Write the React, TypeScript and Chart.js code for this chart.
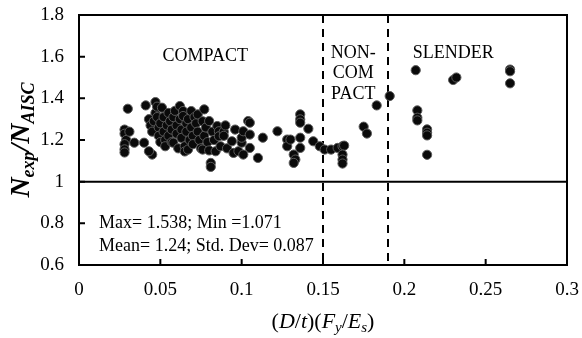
import React, { useEffect, useRef } from "react";
import { Chart, registerables } from "chart.js";

Chart.register(...registerables);

// Data points: [ (D/t)(Fy/Es), Nexp/NAISC ]
const compactPoints: [number, number][] = [
  [0.028, 1.25], [0.028, 1.23], [0.029, 1.2], [0.028, 1.18], [0.028, 1.155], [0.028, 1.14],
  [0.03, 1.35], [0.031, 1.24], [0.034, 1.187], [0.04, 1.187], [0.041, 1.366], [0.047, 1.382],
  [0.045, 1.13], [0.043, 1.146], [0.043, 1.3], [0.044, 1.27], [0.045, 1.24], [0.046, 1.29],
  [0.047, 1.33], [0.048, 1.36], [0.048, 1.31], [0.049, 1.26], [0.049, 1.22], [0.05, 1.19],
  [0.05, 1.28], [0.051, 1.355], [0.052, 1.31], [0.052, 1.24], [0.053, 1.2], [0.053, 1.17],
  [0.054, 1.27], [0.055, 1.33], [0.055, 1.22], [0.056, 1.29], [0.057, 1.25], [0.057, 1.19],
  [0.058, 1.187], [0.058, 1.31], [0.059, 1.34], [0.06, 1.27], [0.06, 1.23], [0.061, 1.16],
  [0.062, 1.363], [0.062, 1.3], [0.063, 1.25], [0.063, 1.21], [0.064, 1.339], [0.064, 1.315],
  [0.065, 1.17], [0.065, 1.145], [0.066, 1.28], [0.066, 1.24], [0.067, 1.154], [0.067, 1.3],
  [0.068, 1.2], [0.069, 1.339], [0.069, 1.26], [0.07, 1.22], [0.07, 1.18], [0.071, 1.31],
  [0.072, 1.28], [0.073, 1.323], [0.073, 1.24], [0.074, 1.2], [0.075, 1.16], [0.076, 1.154],
  [0.076, 1.29], [0.077, 1.347], [0.077, 1.22], [0.078, 1.26], [0.079, 1.19], [0.08, 1.291],
  [0.08, 1.15], [0.081, 1.09], [0.081, 1.071], [0.082, 1.24], [0.083, 1.2], [0.084, 1.146],
  [0.085, 1.267], [0.086, 1.242], [0.086, 1.218], [0.087, 1.17], [0.089, 1.24], [0.089, 1.22],
  [0.09, 1.27], [0.091, 1.16], [0.094, 1.194], [0.095, 1.138], [0.096, 1.25],
  [0.098, 1.146], [0.101, 1.13], [0.1, 1.187], [0.1, 1.211], [0.101, 1.242], [0.104, 1.291],
  [0.105, 1.283], [0.105, 1.226], [0.105, 1.162], [0.113, 1.211], [0.11, 1.114], [0.122, 1.242],
  [0.128, 1.202], [0.128, 1.17], [0.13, 1.202], [0.136, 1.323], [0.136, 1.299], [0.136, 1.283],
  [0.136, 1.211], [0.136, 1.162], [0.141, 1.254], [0.132, 1.13], [0.133, 1.106], [0.132, 1.09],
  [0.144, 1.194], [0.148, 1.17],
];
const nonCompactPoints: [number, number][] = [
  [0.151, 1.154], [0.155, 1.154], [0.159, 1.162], [0.162, 1.17], [0.163, 1.173],
  [0.162, 1.13], [0.162, 1.106], [0.162, 1.087], [0.175, 1.264], [0.177, 1.231],
  [0.183, 1.366],
];
const slenderPoints: [number, number][] = [
  [0.191, 1.411], [0.207, 1.535], [0.208, 1.342], [0.208, 1.307], [0.208, 1.294],
  [0.214, 1.251], [0.214, 1.235], [0.214, 1.222], [0.214, 1.129], [0.23, 1.488],
  [0.232, 1.5], [0.265, 1.538], [0.265, 1.53], [0.265, 1.472],
];

const xTicks = [0, 0.05, 0.1, 0.15, 0.2, 0.25, 0.3];
const yTicks = [0.6, 0.8, 1, 1.2, 1.4, 1.6, 1.8];
const limitLines = [0.15, 0.19];
const refLine = 1;
const regionLabels = [
  { x: 0.0776, y: 1.602, lines: ["COMPACT"] },
  { x: 0.1686, y: 1.617, lines: ["NON-", "COM", "PACT"] },
  { x: 0.23, y: 1.617, lines: ["SLENDER"] },
];
const statsLines = ["Max= 1.538; Min =1.071", "Mean= 1.24; Std. Dev= 0.087"];

const FONT = "'Liberation Serif', 'Times New Roman', serif";

export default function App() {
  const ref = useRef<HTMLCanvasElement | null>(null);
  useEffect(() => {
    document.body.style.margin = "0";
    const canvas = ref.current!;
    const allPts = [...compactPoints, ...nonCompactPoints, ...slenderPoints].map(([x, y]) => ({ x, y }));

    const overlay = {
      id: "overlay",
      beforeDatasetsDraw(chart: any) {
        const { ctx, chartArea: a, scales } = chart;
        const xs = scales.x, ys = scales.y;
        ctx.save();
        ctx.strokeStyle = "#000";
        ctx.lineWidth = 2;
        const yy = ys.getPixelForValue(refLine);
        ctx.beginPath();
        ctx.moveTo(a.left, yy);
        ctx.lineTo(a.right, yy);
        ctx.stroke();
        ctx.setLineDash([8, 6]);
        for (const v of limitLines) {
          const px = Math.round(xs.getPixelForValue(v));
          ctx.beginPath();
          ctx.moveTo(px, a.top);
          ctx.lineTo(px, a.bottom);
          ctx.stroke();
        }
        ctx.restore();
      },
      afterDraw(chart: any) {
        const { ctx, chartArea: a, scales } = chart;
        const xs = scales.x, ys = scales.y;
        ctx.save();
        ctx.strokeStyle = "#000";
        ctx.lineWidth = 2;
        ctx.strokeRect(a.left, a.top, a.right - a.left, a.bottom - a.top);
        ctx.beginPath();
        for (const v of yTicks) {
          const py = ys.getPixelForValue(v);
          ctx.moveTo(a.left, py);
          ctx.lineTo(a.left + 6, py);
        }
        for (const v of xTicks) {
          const px = xs.getPixelForValue(v);
          ctx.moveTo(px, a.bottom);
          ctx.lineTo(px, a.bottom - 6);
        }
        ctx.stroke();

        ctx.fillStyle = "#000";
        ctx.font = `18px ${FONT}`;
        ctx.textAlign = "center";
        ctx.textBaseline = "middle";
        for (const lab of regionLabels) {
          const px = xs.getPixelForValue(lab.x);
          const py = ys.getPixelForValue(lab.y);
          lab.lines.forEach((t, i) => ctx.fillText(t, px, py + i * 20.5));
        }
        ctx.textAlign = "left";
        statsLines.forEach((t, i) => ctx.fillText(t, a.left + 20, 223 + i * 23));

        const drawRuns = (runs: { t: string; f: string; dy: number }[], cx: number, cy: number, rot: boolean) => {
          ctx.save();
          ctx.translate(cx, cy);
          if (rot) ctx.rotate(-Math.PI / 2);
          ctx.textAlign = "left";
          ctx.textBaseline = "alphabetic";
          let total = 0;
          const widths = runs.map((r) => {
            ctx.font = r.f;
            const w = ctx.measureText(r.t).width;
            total += w;
            return w;
          });
          let x = -total / 2;
          runs.forEach((r, i) => {
            ctx.font = r.f;
            ctx.fillText(r.t, x, r.dy);
            x += widths[i];
          });
          ctx.restore();
        };
        const big = `italic bold 28px ${FONT}`;
        const sub = `italic bold 18px ${FONT}`;
        drawRuns(
          [
            { t: "N", f: big, dy: 0 },
            { t: "exp", f: sub, dy: 5 },
            { t: "/", f: big, dy: 0 },
            { t: "N", f: big, dy: 0 },
            { t: "AISC", f: sub, dy: 5 },
          ],
          29, 140, true
        );
        const xr = `22px ${FONT}`;
        const xi = `italic 22px ${FONT}`;
        const xsub = `italic 15px ${FONT}`;
        drawRuns(
          [
            { t: "(", f: xr, dy: 0 },
            { t: "D", f: xi, dy: 0 },
            { t: "/", f: xr, dy: 0 },
            { t: "t", f: xi, dy: 0 },
            { t: ")(", f: xr, dy: 0 },
            { t: "F", f: xi, dy: 0 },
            { t: "y", f: xsub, dy: 4 },
            { t: "/", f: xr, dy: 0 },
            { t: "E", f: xi, dy: 0 },
            { t: "s", f: xsub, dy: 4 },
            { t: ")", f: xr, dy: 0 },
          ],
          (a.left + a.right) / 2, 328, false
        );
        ctx.restore();
      },
    };

    const chart = new Chart(canvas, {
      type: "scatter",
      data: {
        datasets: [
          {
            data: allPts,
            backgroundColor: "#0a0a0a",
            borderColor: "#5a5a5a",
            borderWidth: 1,
            pointRadius: 4.6,
            pointHoverRadius: 4.6,
          },
        ],
      },
      options: {
        animation: false,
        responsive: false,
        events: [],
        layout: { padding: { top: 15, right: 15, left: 0, bottom: 0 } },
        plugins: { legend: { display: false }, tooltip: { enabled: false } },
        scales: {
          x: {
            type: "linear",
            min: 0,
            max: 0.3,
            afterBuildTicks: (s: any) => { s.ticks = xTicks.map((v) => ({ value: v })); },
            afterFit: (s: any) => { s.height = 73; s.paddingLeft = 0; s.paddingRight = 0; },
            grid: { display: false, drawTicks: false },
            border: { display: false },
            ticks: {
              color: "#000",
              font: { family: FONT, size: 19 },
              padding: 14,
              maxRotation: 0,
              callback: (v: any) => String(Number(Number(v).toFixed(2))),
            },
          },
          y: {
            type: "linear",
            min: 0.6,
            max: 1.8,
            afterBuildTicks: (s: any) => { s.ticks = yTicks.map((v) => ({ value: v })); },
            afterFit: (s: any) => { s.width = 79; s.paddingTop = 0; s.paddingBottom = 0; },
            grid: { display: false, drawTicks: false },
            border: { display: false },
            ticks: {
              color: "#000",
              font: { family: FONT, size: 19 },
              padding: 15,
              callback: (v: any) => String(Number(Number(v).toFixed(2))),
            },
          },
        },
      },
      plugins: [overlay],
    });
    return () => chart.destroy();
  }, []);
  return <canvas ref={ref} width={582} height={338} style={{ display: "block" }} />;
}
